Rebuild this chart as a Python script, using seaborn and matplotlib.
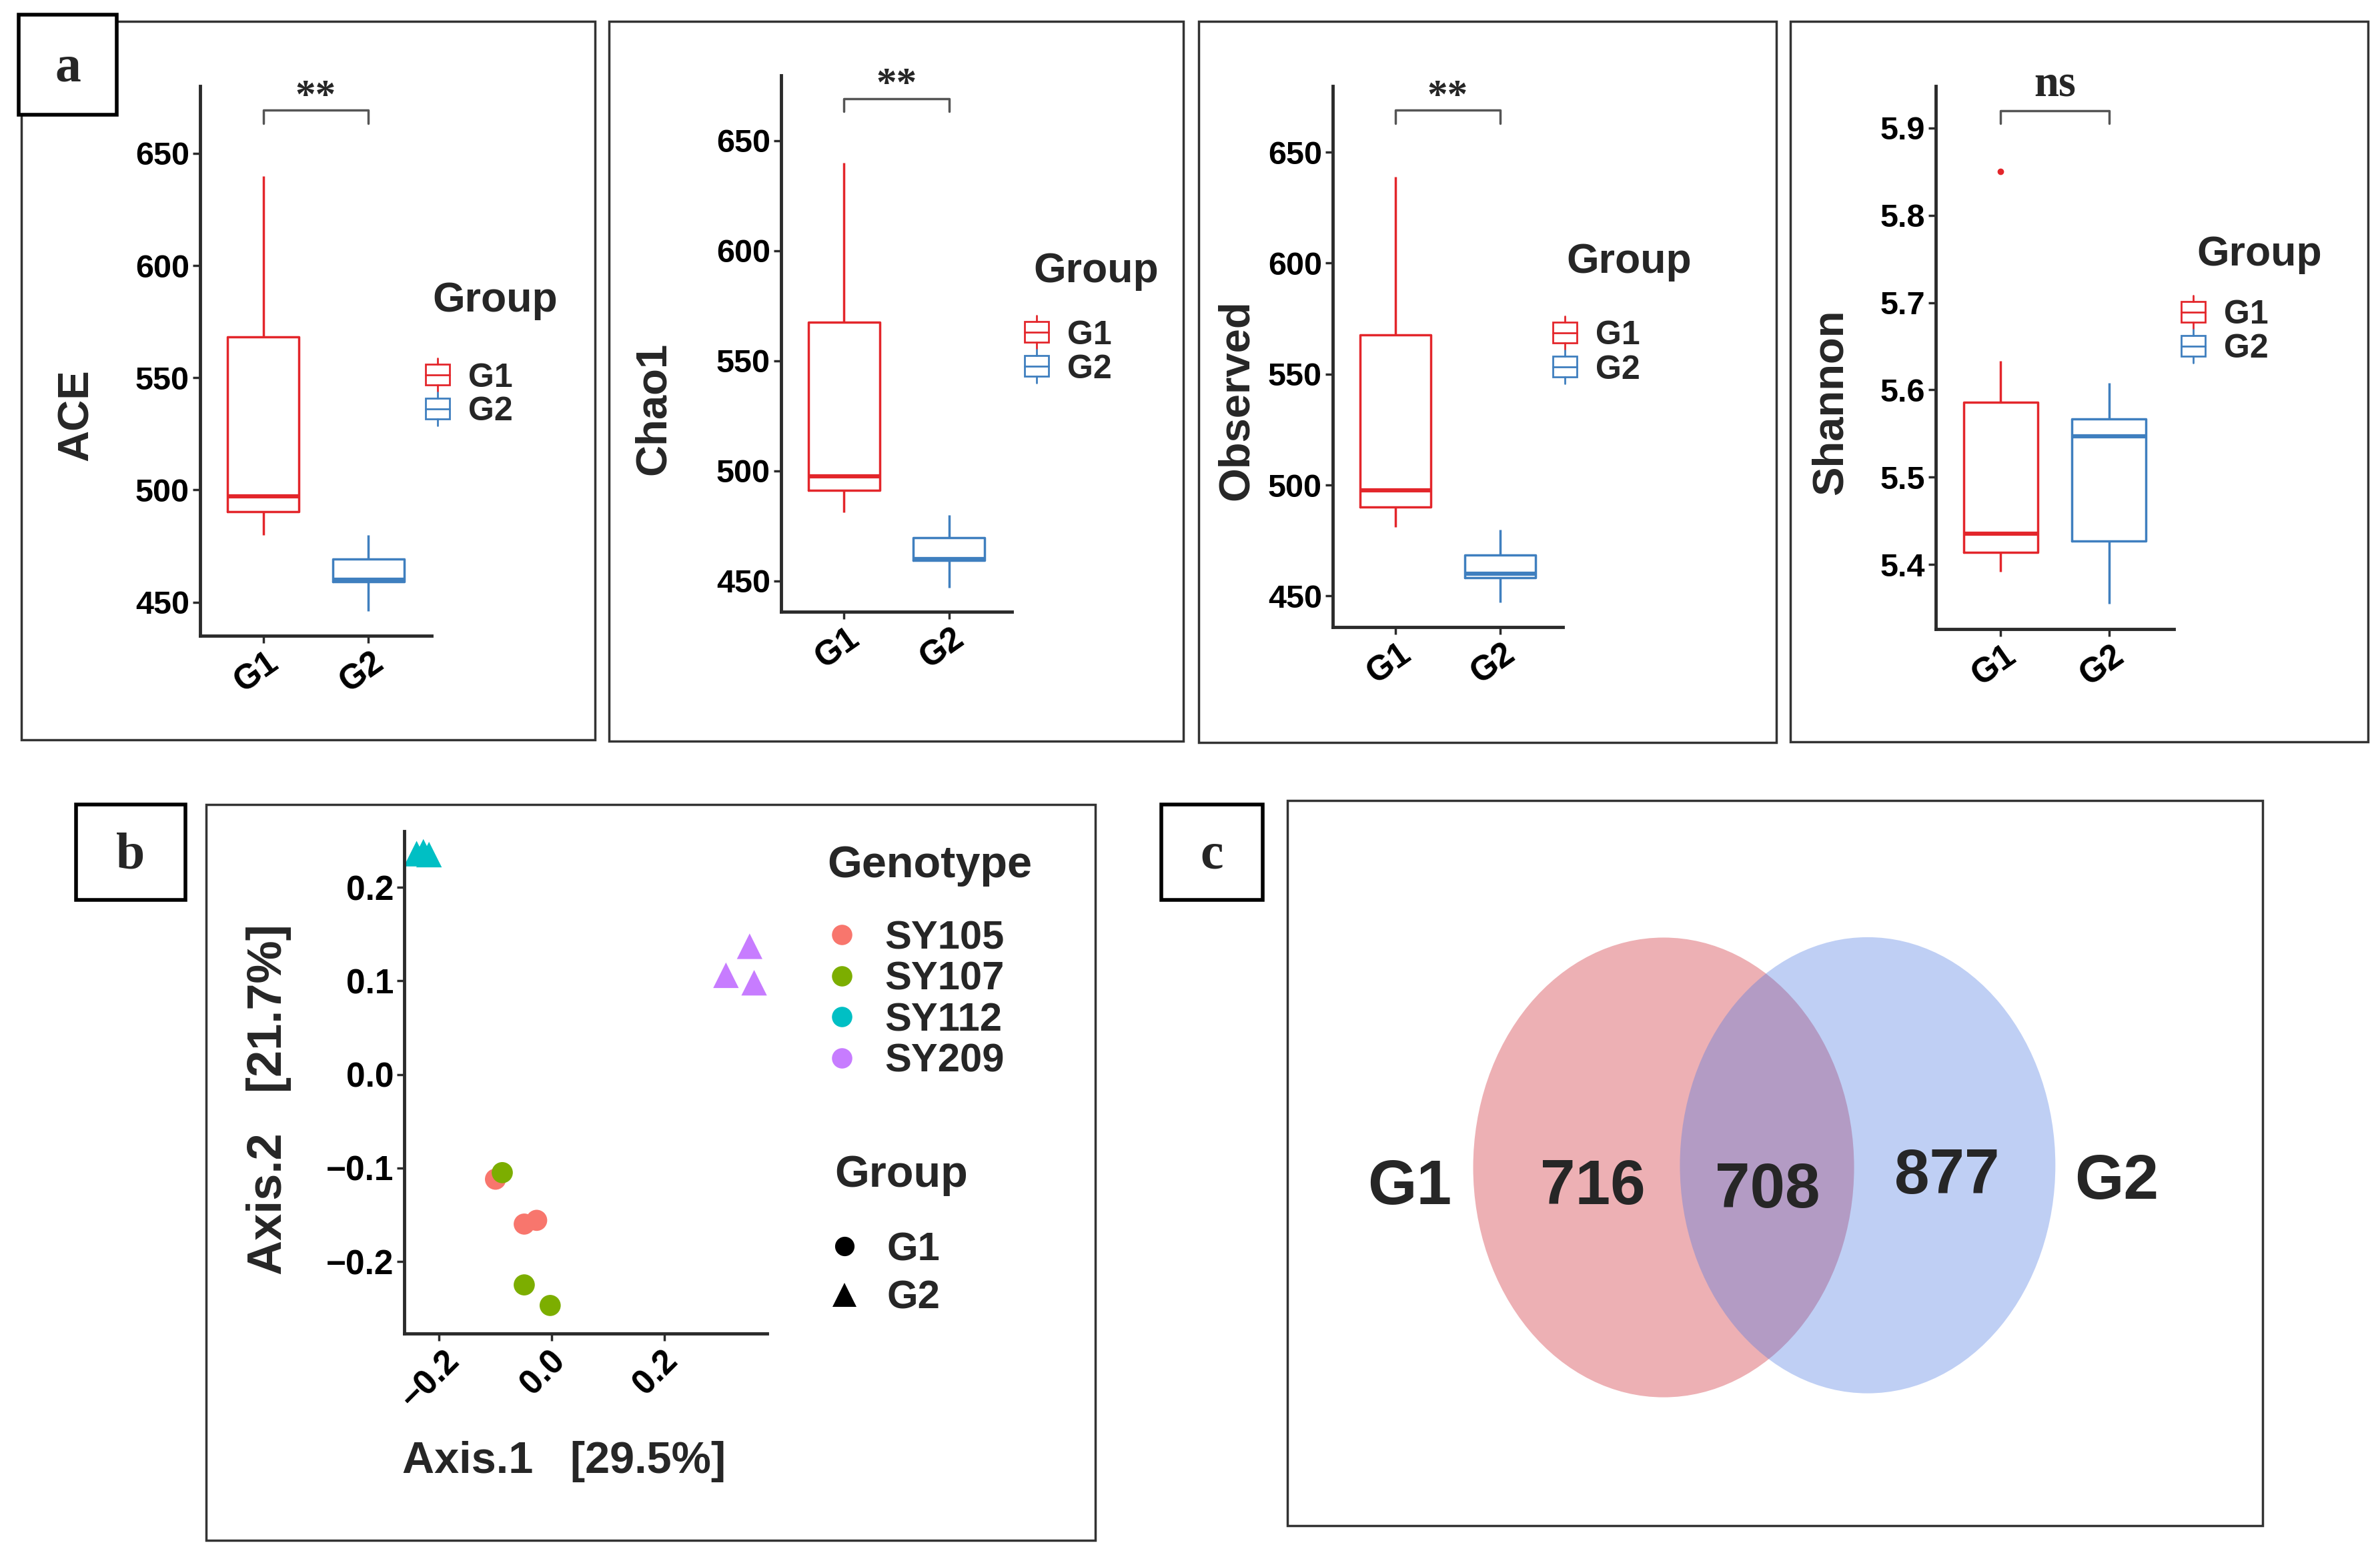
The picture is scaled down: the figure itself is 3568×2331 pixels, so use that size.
import matplotlib
matplotlib.use('Agg')

import pandas as pd
import matplotlib.pyplot as plt
import matplotlib.transforms as mtrans
import seaborn as sns
from matplotlib.patches import Rectangle, Ellipse, Patch
from matplotlib.lines import Line2D
from matplotlib.legend_handler import HandlerBase
from matplotlib.ticker import MultipleLocator

# ---- data ----
groups = ['G1', 'G2']

# alpha diversity, 6 samples per group
ace_g1 = [480, 489, 494, 500, 591, 640]
ace_g2 = [446, 459, 459, 461, 472, 480]
chao1_g1 = [481, 490, 495, 500, 590, 640]
chao1_g2 = [447, 459, 460, 460, 473, 480]
observed_g1 = [481, 489, 494, 501, 590, 639]
observed_g2 = [447, 458, 459, 461, 471, 480]
shannon_g1 = [5.392, 5.41, 5.425, 5.445, 5.633, 5.85]
shannon_g2 = [5.355, 5.389, 5.54, 5.554, 5.571, 5.608]
signif = ['**', '**', '**', 'ns']

# PCoA
genotype = ['SY105'] * 3 + ['SY107'] * 3 + ['SY112'] * 3 + ['SY209'] * 3
pcoa_group = ['G1'] * 6 + ['G2'] * 6
axis1 = [-0.100, -0.049, -0.027, -0.088, -0.049, -0.003,
         -0.240, -0.228, -0.218, 0.351, 0.309, 0.359]
axis2 = [-0.112, -0.160, -0.156, -0.105, -0.225, -0.247,
         0.236, 0.238, 0.235, 0.137, 0.106, 0.098]
genotypes = ['SY105', 'SY107', 'SY112', 'SY209']

# Venn
venn_sets = ['G1', 'G2']
venn_counts = [716, 708, 877]  # G1 only, shared, G2 only

# ---- style ----
sns.set_style('ticks')
plt.rcParams['font.family'] = ['Liberation Sans', 'DejaVu Sans']
plt.rcParams['font.weight'] = 'bold'
plt.rcParams['axes.labelweight'] = 'bold'

group_pal = {'G1': '#E3262B', 'G2': '#3F7FBF'}
geno_pal = dict(zip(genotypes, ['#F8766D', '#7CAE00', '#00BFC4', '#C77CFF']))
axcol = '#2b2b2b'

W, H = 3568, 2331
fig = plt.figure(figsize=(W / 100, H / 100), dpi=100)


def fbox(x0, y0, x1, y1):
    return [x0 / W, 1 - y1 / H, (x1 - x0) / W, (y1 - y0) / H]


def frame(x0, y0, x1, y1, lw=2.5, fc='none', ec='#333333'):
    fig.add_artist(Rectangle((x0 / W, 1 - y1 / H), (x1 - x0) / W, (y1 - y0) / H,
                             transform=fig.transFigure, facecolor=fc,
                             edgecolor=ec, lw=lw))


def shift_xticklabels(ax, dx_pt):
    off = mtrans.ScaledTranslation(dx_pt / 72, 0, fig.dpi_scale_trans)
    for lab in ax.get_xticklabels():
        lab.set_transform(lab.get_transform() + off)


class BoxKey(HandlerBase):
    # small boxplot glyph for the legend keys
    def create_artists(self, legend, orig, xd, yd, w, h, fs, trans):
        c = orig.get_edgecolor()
        x0, y0 = -xd, -yd
        xm = x0 + w / 2
        kw = dict(color=c, lw=2, transform=trans)
        return [Rectangle((x0, y0), w, h, fill=False, edgecolor=c, lw=2, transform=trans),
                Line2D([x0, x0 + w], [y0 + h / 2] * 2, **kw),
                Line2D([xm, xm], [y0 - 0.3 * h, y0], **kw),
                Line2D([xm, xm], [y0 + h, y0 + 1.3 * h], **kw)]


# ---- panel a: boxplots ----
panels = [
    dict(g1=ace_g1, g2=ace_g2, lab='ACE', ax=(300, 129, 647, 953), ylim=(435, 680),
         step=50, ylab=(-0.447, 0.402), leg=(638, 592), title=(648, 467),
         br=(663.4, 669.2, 670.5)),
    dict(g1=chao1_g1, g2=chao1_g2, lab='Chao1', ax=(1171, 113, 1517, 917), ylim=(436, 679.6),
         step=50, ylab=(-0.465, 0.379), leg=(1536, 528), title=(1549, 423),
         br=(663.2, 669.1, 670.5)),
    dict(g1=observed_g1, g2=observed_g2, lab='Observed', ax=(1998, 129, 2343, 940),
         ylim=(436, 679.8), step=50, ylab=(-0.33, 0.42), leg=(2328, 529),
         title=(2348, 409), br=(663.1, 668.9, 670.3)),
    dict(g1=shannon_g1, g2=shannon_g2, lab='Shannon', ax=(2902, 129, 3259, 943),
         ylim=(5.326, 5.948), step=0.1, ylab=(-0.356, 0.418), leg=(3270, 498),
         title=(3293, 398), br=(5.9055, 5.9195, 5.937)),
]

for p, sig in zip(panels, signif):
    df = pd.DataFrame({'Group': ['G1'] * len(p['g1']) + ['G2'] * len(p['g2']),
                       'value': p['g1'] + p['g2']})
    ax = fig.add_axes(fbox(*p['ax']))
    sns.boxplot(data=df, x='Group', y='value', hue='Group', palette=group_pal,
                saturation=1, fill=False, width=0.68, linewidth=2.5,
                showcaps=False, medianprops=dict(linewidth=4.5),
                flierprops=dict(marker='o', markersize=6), legend=False, ax=ax)
    for ln in ax.lines:
        if ln.get_marker() not in (None, '', 'None'):
            ln.set_markerfacecolor(ln.get_markeredgecolor())
    ax.set_xlim(-0.6, 1.6)
    ax.set_ylim(*p['ylim'])
    ax.yaxis.set_major_locator(MultipleLocator(p['step']))
    sns.despine(ax=ax)
    for s in ['left', 'bottom']:
        ax.spines[s].set_linewidth(3.5)
        ax.spines[s].set_color(axcol)
    ax.tick_params(axis='both', length=8, width=2.5, color=axcol, labelsize=35,
                   labelcolor='black')
    ax.tick_params(axis='x', pad=3, labelsize=37)
    plt.setp(ax.get_xticklabels(), rotation=35, ha='center', va='top')
    shift_xticklabels(ax, -7)
    ax.set_xlabel('')
    ax.set_ylabel(p['lab'], fontsize=47)
    ax.yaxis.set_label_coords(*p['ylab'])

    # significance bracket
    y_end, y_top, y_txt = p['br']
    ax.plot([0, 0, 1, 1], [y_end, y_top, y_top, y_end], color='#555555', lw=2.5,
            clip_on=False)
    ax.text(0.5, y_txt, sig, ha='center', va='baseline', clip_on=False,
            family=['Liberation Serif', 'DejaVu Serif'], fontweight='bold',
            fontsize=48 if sig == 'ns' else 44)

    handles = [Patch(facecolor='none', edgecolor=group_pal[g]) for g in groups]
    lx, ly = p['leg']
    ax.legend(handles, groups, handler_map={Patch: BoxKey()}, loc='center left',
              bbox_to_anchor=(lx / W, 1 - ly / H), bbox_transform=fig.transFigure,
              frameon=False, prop=dict(weight='bold', size=36), borderpad=0,
              borderaxespad=0, labelspacing=0.1, handlelength=0.72,
              handleheight=0.58, handletextpad=0.55)
    tx, ty = p['title']
    fig.text(tx / W, 1 - ty / H, 'Group', fontsize=45, fontweight='bold',
             ha='left', va='baseline')

# ---- panel b: PCoA ----
pcoa = pd.DataFrame({'Axis1': axis1, 'Axis2': axis2, 'Genotype': genotype,
                     'Group': pcoa_group})
ax_b = fig.add_axes(fbox(606, 1246, 1150, 1999))
sns.scatterplot(data=pcoa, x='Axis1', y='Axis2', hue='Genotype', style='Group',
                size='Group', sizes={'G1': 520, 'G2': 760},
                markers={'G1': 'o', 'G2': '^'}, palette=geno_pal, linewidth=0,
                legend=False, ax=ax_b)
ax_b.set_xlim(-0.262, 0.382)
ax_b.set_ylim(-0.277, 0.26)
ax_b.xaxis.set_major_locator(MultipleLocator(0.2))
ax_b.yaxis.set_major_locator(MultipleLocator(0.1))
sns.despine(ax=ax_b)
for s in ['left', 'bottom']:
    ax_b.spines[s].set_linewidth(3.5)
    ax_b.spines[s].set_color(axcol)
ax_b.tick_params(axis='both', length=8, width=2.5, color=axcol, labelsize=37,
                 labelcolor='black')
plt.setp(ax_b.get_xticklabels(), rotation=45, ha='center', va='top')
shift_xticklabels(ax_b, -9)
ax_b.set_xlabel('Axis.1   [29.5%]', fontsize=48)
ax_b.set_ylabel('Axis.2   [21.7%]', fontsize=52)
ax_b.xaxis.set_label_coords(0.44, -0.214)
ax_b.yaxis.set_label_coords(-0.31, 0.466)

geno_handles = [Line2D([], [], ls='', marker='o', markersize=22,
                       markerfacecolor=geno_pal[g], markeredgewidth=0) for g in genotypes]
leg1 = ax_b.legend(geno_handles, genotypes, loc='center left',
                   bbox_to_anchor=(1245 / W, 1 - 1499 / H), bbox_transform=fig.transFigure,
                   frameon=False, prop=dict(weight='bold', size=43), borderpad=0,
                   borderaxespad=0, labelspacing=0.11, handlelength=0.56,
                   handletextpad=0.8)
ax_b.add_artist(leg1)
grp_handles = [Line2D([], [], ls='', marker='o', markersize=21, color='black',
                      markeredgewidth=0),
               Line2D([], [], ls='', marker='^', markersize=26, color='black',
                      markeredgewidth=0)]
ax_b.legend(grp_handles, groups, loc='center left',
            bbox_to_anchor=(1249 / W, 1 - 1910 / H), bbox_transform=fig.transFigure,
            frameon=False, prop=dict(weight='bold', size=43), borderpad=0,
            borderaxespad=0, labelspacing=0.3, handlelength=0.56, handletextpad=0.78)
fig.text(1240 / W, 1 - 1315 / H, 'Genotype', fontsize=48, fontweight='bold',
         ha='left', va='baseline')
fig.text(1251 / W, 1 - 1779 / H, 'Group', fontsize=48, fontweight='bold',
         ha='left', va='baseline')

# ---- panel c: Venn ----
ax_c = fig.add_axes(fbox(1930, 1200, 3392, 2287))
ax_c.set_xlim(0, 1)
ax_c.set_ylim(1, 0)
ax_c.axis('off')
ax_c.add_patch(Ellipse((0.3858, 0.506), 0.3906, 0.634, facecolor='#CC1D29',
                       alpha=0.35, lw=0))
ax_c.add_patch(Ellipse((0.595, 0.503), 0.385, 0.629, facecolor='#4876E2',
                       alpha=0.35, lw=0))
venn_font = dict(family=['Liberation Sans Narrow', 'Liberation Sans'],
                 fontweight='bold', fontsize=68, ha='center', va='baseline')
ax_c.text(0.125, 0.557, venn_sets[0], **venn_font)
ax_c.text(0.85, 0.549, venn_sets[1], **venn_font)
for xc, yc, n in zip([0.313, 0.492, 0.676], [0.557, 0.561, 0.542], venn_counts):
    ax_c.text(xc, yc, str(n), **venn_font)

# ---- panel frames and letter boxes ----
for box in [(32, 32, 892, 1109), (913, 32, 1774, 1111), (1797, 32, 2663, 1113),
            (2684, 32, 3550, 1112), (309, 1206, 1642, 2309), (1930, 1200, 3392, 2287)]:
    frame(*box)
for letter, (x0, y0, x1, y1) in zip('abc', [(28, 22, 175, 172), (114, 1206, 278, 1349),
                                            (1741, 1206, 1893, 1349)]):
    frame(x0, y0, x1, y1, lw=4, fc='white', ec='black')
    fig.text((x0 + x1) / 2 / W, 1 - ((y0 + y1) / 2 + 24) / H, letter, fontsize=56,
             family=['Liberation Serif', 'DejaVu Serif'], fontweight='bold',
             ha='center', va='baseline')

plt.savefig('out.png', dpi=100, facecolor='white')
print('saved out.png')
